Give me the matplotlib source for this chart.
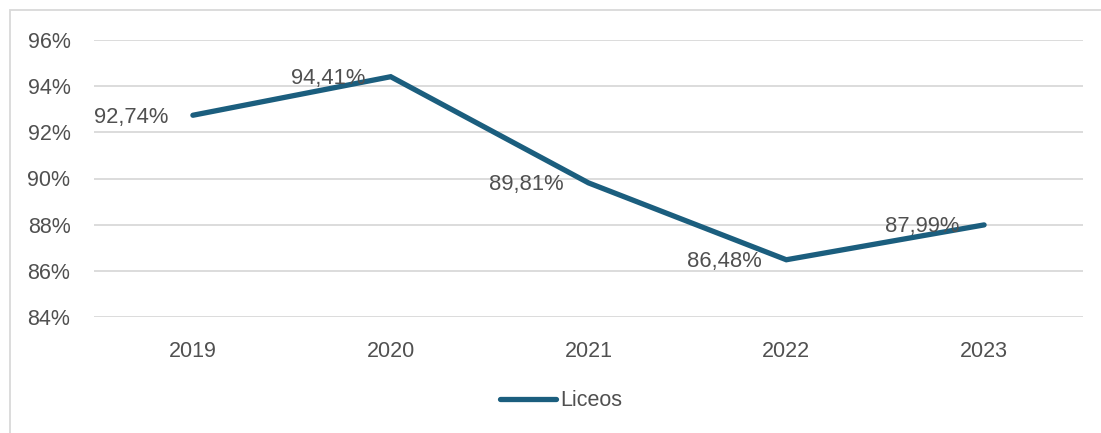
import matplotlib
matplotlib.use('Agg')
import matplotlib.pyplot as plt
from matplotlib.patches import Rectangle

# datos
anios = ['2019', '2020', '2021', '2022', '2023']
liceos = [92.74, 94.41, 89.81, 86.48, 87.99]
etiquetas = ['92,74%', '94,41%', '89,81%', '86,48%', '87,99%']
yticks = [84, 86, 88, 90, 92, 94, 96]

color_linea = '#1B5E7E'
color_texto = '#505050'
color_grid = '#D9D9D9'

plt.rcParams['font.family'] = ['Liberation Sans', 'DejaVu Sans']

fig = plt.figure(figsize=(11.01, 4.33), dpi=100)
ax = fig.add_axes([94/1101, 1-317/433, (1083-94)/1101, (317-40)/433])

x = list(range(len(anios)))
ax.plot(x, liceos, color=color_linea, linewidth=3.8, solid_capstyle='round',
        solid_joinstyle='miter', label='Liceos', zorder=3)

# etiquetas de datos a la izquierda del punto
for xi, yi, t in zip(x, liceos, etiquetas):
    ax.annotate(t, (xi, yi), xytext=(-18, -1.5), textcoords='offset points',
                ha='right', va='center', fontsize=15.8, color=color_texto, zorder=4)

ax.set_xlim(-0.5, len(anios) - 0.5)
ax.set_ylim(84, 96)
ax.set_xticks(x)
ax.set_xticklabels(anios)
ax.set_yticks(yticks)
ax.set_yticklabels([f'{v}%' for v in yticks])
ax.tick_params(axis='both', length=0, labelsize=15.5, labelcolor=color_texto)
ax.tick_params(axis='x', pad=17)
ax.tick_params(axis='y', pad=17)
ax.grid(axis='y', color=color_grid, linewidth=1.3)
ax.set_axisbelow(True)
for s in ax.spines.values():
    s.set_visible(False)

fig.legend(loc='center', bbox_to_anchor=(561/1101, 1-401/433), frameon=False,
           fontsize=15.5, labelcolor=color_texto, handlelength=2.6, handletextpad=0.2)

# borde del grafico
borde = Rectangle((10/1101, -0.1), 1.2, 1.1 - 10/433, transform=fig.transFigure,
                  fill=False, edgecolor=color_grid, linewidth=1.3, clip_on=False)
fig.patches.append(borde)

fig.savefig('out.png', dpi=100)
